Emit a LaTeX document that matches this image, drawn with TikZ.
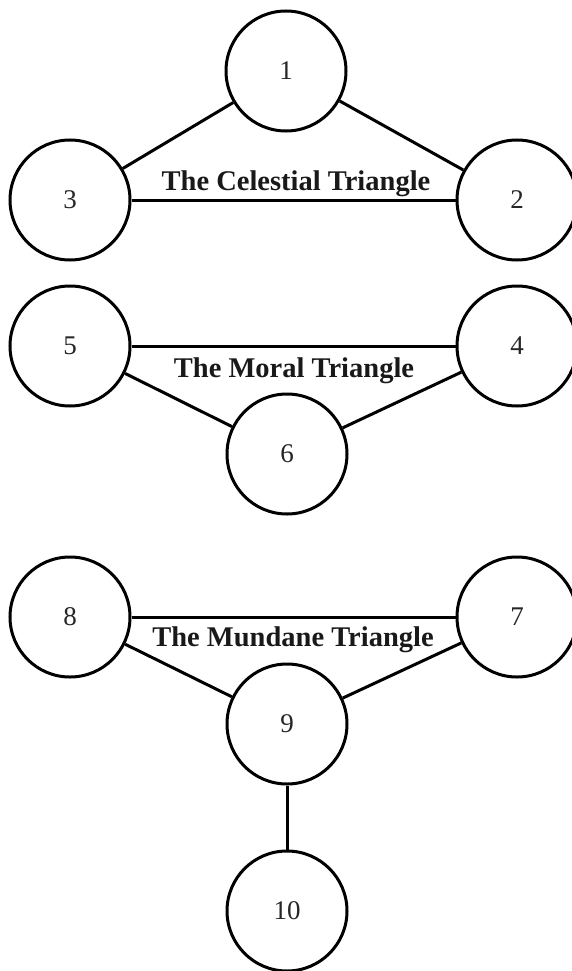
\documentclass[tikz,border=0pt]{standalone}
\usepackage{fontspec}
\setmainfont{Liberation Serif}
\begin{document}
\begin{tikzpicture}[x=1pt,y=-1pt,
  ball/.style={circle,draw=black,line width=3pt,minimum size=120pt,inner sep=0pt,
    font=\fontsize{27}{30}\selectfont,text=black!85},
  link/.style={draw=black,line width=3pt},
  title/.style={anchor=base,inner sep=0pt,font=\fontsize{28.5}{32}\selectfont\bfseries,text=black!90}]
\useasboundingbox[fill=white] (0,0) rectangle (572,971);
\node[ball] (n1) at (286,71) {1};
\node[ball] (n3) at (70,200) {3};
\node[ball] (n2) at (517,200) {2};
\node[ball] (n5) at (70,346) {5};
\node[ball] (n4) at (517,346) {4};
\node[ball] (n6) at (287,454) {6};
\node[ball] (n8) at (70,617) {8};
\node[ball] (n7) at (517,617) {7};
\node[ball] (n9) at (287,724) {9};
\node[ball] (n10) at (287,911) {10};
\draw[link] (n1) -- (n3);
\draw[link] (n1) -- (n2);
\draw[link] (n3) -- (n2);
\draw[link] (n5) -- (n4);
\draw[link] (n5) -- (n6);
\draw[link] (n4) -- (n6);
\draw[link] (n8) -- (n7);
\draw[link] (n8) -- (n9);
\draw[link] (n7) -- (n9);
\draw[link] (n9) -- (n10);
\node[title] (t1) at (296,190) {The Celestial Triangle};
\node[title] (t2) at (294,377) {The Moral Triangle};
\node[title] (t3) at (293,646) {The Mundane Triangle};
\end{tikzpicture}
\end{document}
